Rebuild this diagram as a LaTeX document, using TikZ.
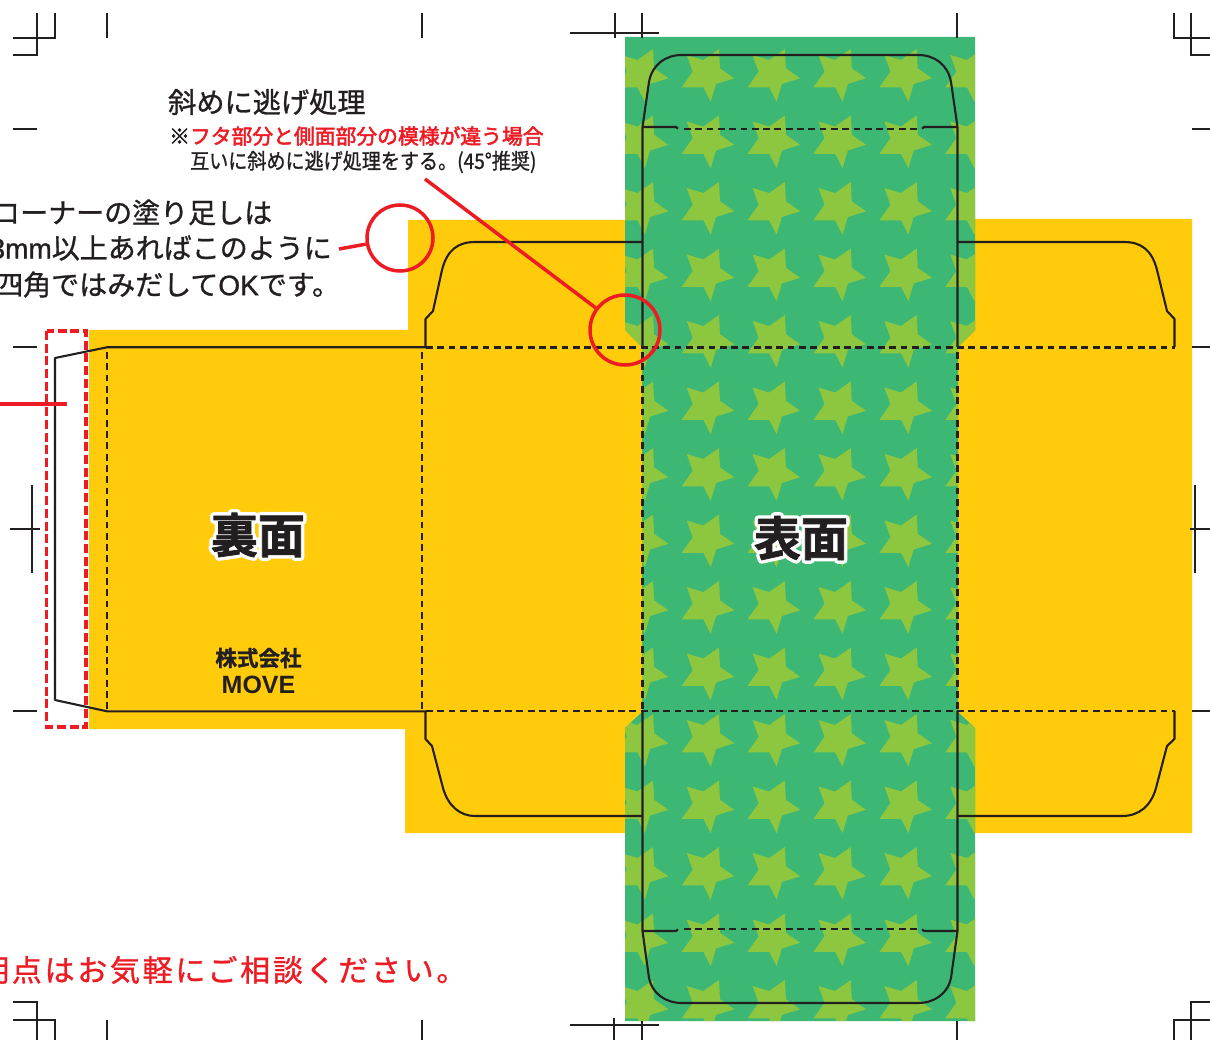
\documentclass[tikz,border=0pt]{standalone}
\usepackage{graphicx}
\usepackage{fontspec}
\setmainfont{Noto Sans CJK JP}
\newfontfamily\jp[FakeBold=1]{Noto Sans CJK JP}
\newfontfamily\jpmed[FakeBold=2.5]{Noto Sans CJK JP}
\newfontfamily\jpwide[LetterSpace=9,FakeBold=1]{Noto Sans CJK JP}
\newfontfamily\jpheavy[FakeBold=1.5]{Noto Sans CJK JP Bold}
\newfontfamily\jphalo[FakeBold=16]{Noto Sans CJK JP Bold}
\newfontfamily\mv[FakeBold=1]{Liberation Sans}
\newfontfamily\mvb{Liberation Sans Bold}
\definecolor{kblack}{HTML}{231F20}
\definecolor{kred}{HTML}{ED1C24}
\definecolor{kyellow}{HTML}{FFCB0A}
\definecolor{kgreen}{HTML}{3CB774}
\definecolor{kstar}{HTML}{8DC63F}
\tikzset{
  x=1pt,y=-1pt,
  cutline/.style={draw=kblack,line width=2.1pt,line join=round},
  foldline/.style={draw=kblack,line width=2.1pt,dash pattern=on 6.8pt off 4.5pt},
  cropmark/.style={draw=kblack,line width=1.9pt},
  redline/.style={draw=kred,line width=3.5pt},
  reddash/.style={draw=kred,line width=3.5pt,dash pattern=on 9pt off 3.7pt},
  redring/.style={circle,draw=kred,line width=3.5pt,minimum size=66pt,inner sep=0pt},
  label/.style={inner sep=0pt,anchor=west,text=kblack},
  starpic/.pic={\fill[kstar] (37,0) -- (38,19.3) -- (52.3,29.3) -- (34,35) -- (28.7,52.7) -- (21.3,38.3) -- (-0.3,38.3) -- (10.7,22.7) -- (4.7,6) -- (21.3,11) -- cycle;}
}
\begin{document}
\begin{tikzpicture}
\useasboundingbox (0,0) rectangle (1210,1040);
\clip (0,0) rectangle (1210,1040);
% background colour areas
\fill[kyellow] (89,330) -- (408,330) -- (408,220) -- (800,220) -- (975,219) -- (1192,219) -- (1192,833) -- (405,833) -- (405,729) -- (89,729) -- cycle;
\begin{scope}
\path[clip] (625,37) -- (975,37) -- (975,330) -- (958,347) -- (958,712) -- (975,728) -- (975,1021) -- (625,1021) -- (625,728) -- (642,712) -- (642,347) -- (625,330) -- cycle;
\fill[kgreen] (600,20) rectangle (1000,1040);
\foreach \r in {-1,...,14}{
  \foreach \c in {-1,...,5}{
    \pic at ({682+65.9*\c},{49+66.5*\r}) {starpic};
  }
}
\end{scope}
% die lines
\draw[cutline] (426,711.3) -- (107,711.3) -- (55,700) -- (55,358) -- (107,347.3) -- (426,347.3);
\draw[foldline] (107,352) -- (107,711);
\draw[foldline] (422,352) -- (422,711);
\draw[foldline] (642.5,352) -- (642.5,711);
\draw[foldline] (957.5,352) -- (957.5,711);
\draw[foldline] (426,347.5) -- (1175,347.5);
\draw[foldline] (426,711.3) -- (1175,711.3);
\draw[cutline] (425.5,347) -- (425.5,319) -- (433,311) -- (442,270) .. controls (447,250) and (458,242) .. (475,242) -- (642,242);
\draw[cutline] (425.5,711) -- (425.5,739) -- (432,746) -- (443,788) .. controls (448,806) and (460,816) .. (475,816) -- (642,816);
\draw[cutline] (1174.5,347) -- (1174.5,319) -- (1167,311) -- (1157,270) .. controls (1152,250) and (1141,242) .. (1124,242) -- (958,242);
\draw[cutline] (1174.5,711) -- (1174.5,739) -- (1167,746) -- (1156,788) .. controls (1151,806) and (1139,816) .. (1122,816) -- (958,816);
\draw[cutline] (642.5,347) -- (642.5,127) -- (649,82) .. controls (652,65) and (665,55) .. (682,55) -- (918,55) .. controls (935,55) and (948,65) .. (951,82) -- (957.5,127) -- (957.5,347);
\draw[cutline] (642.5,711) -- (642.5,931) -- (649,978) .. controls (652,993) and (665,1003) .. (682,1003) -- (918,1003) .. controls (935,1003) and (948,993) .. (951,978) -- (957.5,931) -- (957.5,711);
\draw[cutline] (642.5,127) -- (676,127) -- (678,128.7);
\draw[cutline] (957.5,127) -- (924,127) -- (922,128.7);
\draw[foldline] (684,128.7) -- (920,128.7);
\draw[cutline] (642.5,931) -- (676,931) -- (678,929.3);
\draw[cutline] (957.5,931) -- (924,931) -- (922,929.3);
\draw[foldline] (684,929.3) -- (920,929.3);
% crop marks
\draw[cropmark] (13,55) -- (37,55) -- (37,13);
\draw[cropmark] (13,38) -- (55,38) -- (55,13);
\draw[cropmark] (107,13) -- (107,38);
\draw[cropmark] (422,13) -- (422,38);
\draw[cropmark] (13,129) -- (37,129);
\draw[cropmark] (570,33) -- (659,33);
\draw[cropmark] (615,13) -- (615,38);
\draw[cropmark] (642,13) -- (642,38);
\draw[cropmark] (957,13) -- (957,38);
\draw[cropmark] (1174,13) -- (1174,38) -- (1210,38);
\draw[cropmark] (1191,13) -- (1191,55) -- (1210,55);
\draw[cropmark] (1192,129) -- (1210,129);
\draw[cropmark] (13,347.3) -- (37,347.3);
\draw[cropmark] (13,711.3) -- (37,711.3);
\draw[cropmark] (1192,347.3) -- (1210,347.3);
\draw[cropmark] (1192,711.3) -- (1210,711.3);
\draw[cropmark] (32.3,485) -- (32.3,573);
\draw[cropmark] (10,529) -- (40,529);
\draw[cropmark] (1195,485) -- (1195,573);
\draw[cropmark] (1190,529) -- (1210,529);
\draw[cropmark] (13,1002) -- (37,1002) -- (37,1040);
\draw[cropmark] (13,1020) -- (55,1020) -- (55,1040);
\draw[cropmark] (107,1020) -- (107,1040);
\draw[cropmark] (422,1020) -- (422,1040);
\draw[cropmark] (570,1025) -- (659,1025);
\draw[cropmark] (614,1018) -- (614,1040);
\draw[cropmark] (642,1021) -- (642,1040);
\draw[cropmark] (957,1021) -- (957,1040);
\draw[cropmark] (1210,1002) -- (1191,1002) -- (1191,1040);
\draw[cropmark] (1210,1020) -- (1174,1020) -- (1174,1040);
% red marks
\draw[reddash] (46.5,331) rectangle (86,727);
\coordinate (glueL) at (0,404);
\coordinate (glueR) at (67,404);
\draw[redline] (glueL) -- (glueR);
\node[redring] (ringA) at (400,238) {};
\node[redring,minimum size=70pt] (ringB) at (625,330) {};
\coordinate (noteA) at (339,249);
\coordinate (noteB) at (425,179);
\draw[redline] (noteA) -- (ringA);
\draw[redline] (noteB) -- (ringB);
% texts
\node[label,font=\jp\fontsize{28.2}{30}\selectfont] (t1) at (168,102) {斜めに逃げ処理};
\node[label,font=\jpmed\fontsize{20.8}{24}\selectfont] (t2) at (169,136) {\textcolor{kblack}{※}\textcolor{kred}{フタ部分と側面部分の模様が違う場合}};
\node[label,font=\jp\fontsize{21.5}{24}\selectfont] (t3) at (190,162) {\scalebox{0.887}[1]{互いに斜めに逃げ処理をする。(45°推奨)}};
\node[label,font=\jp\fontsize{28}{30}\selectfont] (t4) at (-8,212.5) {コーナーの塗り足しは};
\node[inner sep=0pt,anchor=east,text=kblack,font=\jp\fontsize{28}{30}\selectfont] (t5) at (332,248) {{\mv 3mm}以上あればこのように};
\node[label,font=\jp\fontsize{28}{30}\selectfont] (t6) at (-5,284.5) {四角ではみだして{\mv OK}です。};
\node[label,text=kred,font=\jpwide\fontsize{30}{34}\selectfont] (t7) at (-21,970) {明点はお気軽にご相談ください。};
\begin{scope}[line join=round,line cap=round]
\node[inner sep=0pt,text=white,font=\jphalo\fontsize{47}{52}\selectfont] (haloA) at (258,535) {裏面};
\node[inner sep=0pt,text=white,font=\jphalo\fontsize{47}{52}\selectfont] (haloB) at (801,538) {表面};
\node[inner sep=0pt,text=kblack,font=\jpheavy\fontsize{47}{52}\selectfont] (backface) at (258,535) {裏面};
\node[inner sep=0pt,text=kblack,font=\jpheavy\fontsize{47}{52}\selectfont] (frontface) at (801,538) {表面};
\end{scope}
\node[inner sep=0pt,text=kblack,font=\jpheavy\fontsize{21.5}{24}\selectfont] (co) at (258.5,658) {株式会社};
\node[inner sep=0pt,text=kblack,font=\mvb\fontsize{25}{28}\selectfont] (mvtext) at (258.5,685) {MOVE};
\end{tikzpicture}
\end{document}
